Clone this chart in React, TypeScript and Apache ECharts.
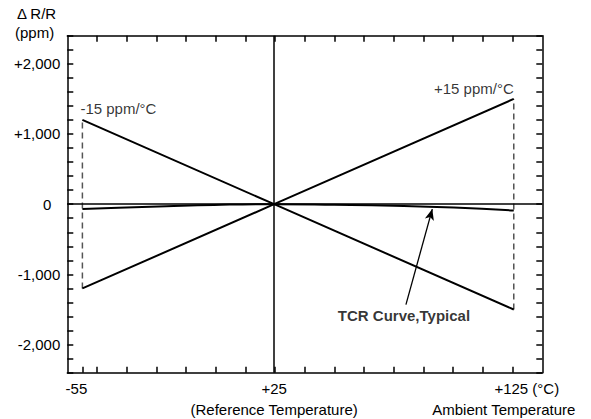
import React, { useEffect, useRef } from 'react';
import * as echarts from 'echarts';

// Temperatures (°C) and resistance changes (ppm)
const temperatures = [-55, 25, 125];
const plus15Values = [-1200, 0, 1500];
const minus15Values = [1200, 0, -1500];
const tcrTemperatures = [-55, -40, -20, 0, 25, 50, 75, 100, 125];
const tcrValues = [-70, -50, -28, -10, 0, -8, -22, -48, -90];
const xLabelValues = [-55, 25, 125];
const yLabelValues = [-2000, -1000, 0, 1000, 2000];
const arrowTail = [80, -1430];
const arrowHead = [91, -70];

const X_MIN = -61.3;
const X_MAX = 136.9;
const X_DIVISIONS = 16;
const Y_MIN = -2400;
const Y_MAX = 2400;
const Y_STEP = 200;

const FONT = '"Liberation Sans", Arial, Helvetica, sans-serif';

export default function App() {
  const ref = useRef<HTMLDivElement>(null);

  useEffect(() => {
    if (!ref.current) return;
    const chart = echarts.init(ref.current, null, { renderer: 'svg' });

    const step = (X_MAX - X_MIN) / X_DIVISIONS;
    const gridTicks: number[] = [];
    for (let k = 1; k < X_DIVISIONS; k++) gridTicks.push(X_MIN + k * step);
    const bottomTicks = [temperatures[0], ...gridTicks];

    const tickStyle = { color: '#000', width: 1.5 };
    const axisLineStyle = { color: '#000', width: 1.5 };

    const pairs = (xs: number[], ys: number[]) => xs.map((x, i) => [x, ys[i]]);

    const option: any = {
      animation: false,
      backgroundColor: '#fff',
      textStyle: { fontFamily: FONT },
      grid: {
        left: 67.3, right: 48.7, top: 35.7, bottom: 46.3,
        containLabel: false, outerBoundsMode: 'none',
      },
      graphic: [
        { type: 'text', left: 17, top: 6, style: { text: 'Δ R/R', fontSize: 15, fontFamily: FONT, fill: '#000' } },
        { type: 'text', left: 15, top: 25, style: { text: '(ppm)', fontSize: 15, fontFamily: FONT, fill: '#000' } },
      ],
      xAxis: [
        {
          type: 'value',
          position: 'bottom',
          min: X_MIN,
          max: X_MAX,
          splitLine: { show: false },
          axisLine: { show: true, onZero: false, lineStyle: axisLineStyle },
          axisTick: { show: true, inside: true, length: 6, customValues: bottomTicks, lineStyle: tickStyle },
          axisLabel: {
            show: true,
            customValues: xLabelValues,
            margin: 5,
            color: '#000',
            fontSize: 15,
            fontFamily: FONT,
            lineHeight: 21,
            formatter: (v: number) => {
              if (v === xLabelValues[0]) return '{l|-55}';
              if (v === xLabelValues[1]) return '{c|+25}\n{c|(Reference Temperature)}';
              return '{a|+125 (°C)}\n{b|Ambient Temperature}';
            },
            rich: {
              l: { fontSize: 15, fontFamily: FONT, color: '#000', lineHeight: 21, padding: [0, 12, 0, 0] },
              c: { fontSize: 15, fontFamily: FONT, color: '#000', lineHeight: 21 },
              a: { fontSize: 15, fontFamily: FONT, color: '#000', lineHeight: 21, padding: [0, 0, 0, 26] },
              b: { fontSize: 15, fontFamily: FONT, color: '#000', lineHeight: 21, padding: [0, 20, 0, 0] },
            },
          },
        },
        {
          type: 'value',
          position: 'top',
          min: X_MIN,
          max: X_MAX,
          splitLine: { show: false },
          axisLine: { show: true, onZero: false, lineStyle: axisLineStyle },
          axisTick: { show: true, inside: true, length: 6, customValues: gridTicks, lineStyle: tickStyle },
          axisLabel: { show: false },
        },
      ],
      yAxis: [
        {
          type: 'value',
          position: 'left',
          min: Y_MIN,
          max: Y_MAX,
          interval: Y_STEP,
          splitLine: { show: false },
          axisLine: { show: true, onZero: false, lineStyle: axisLineStyle },
          axisTick: { show: true, inside: true, length: 6, lineStyle: tickStyle },
          axisLabel: {
            show: true,
            customValues: yLabelValues,
            margin: 7,
            color: '#000',
            fontSize: 15,
            fontFamily: FONT,
            formatter: (v: number) => {
              if (v === 0) return '{z|0}';
              const s = Math.abs(v).toLocaleString('en-US');
              return v > 0 ? '+' + s : '-' + s;
            },
            rich: {
              z: { fontSize: 15, fontFamily: FONT, color: '#000', padding: [0, 9, 0, 0] },
            },
          },
        },
        {
          type: 'value',
          position: 'right',
          min: Y_MIN,
          max: Y_MAX,
          interval: Y_STEP,
          splitLine: { show: false },
          axisLine: { show: true, onZero: false, lineStyle: axisLineStyle },
          axisTick: { show: true, inside: true, length: 6, lineStyle: tickStyle },
          axisLabel: { show: false },
        },
      ],
      series: [
        {
          name: 'bounds -55',
          type: 'line',
          data: [[temperatures[0], plus15Values[0]], [temperatures[0], minus15Values[0]]],
          showSymbol: false,
          symbol: 'none',
          lineStyle: { color: '#555', width: 1.5, type: [6, 4] },
          silent: true,
          z: 2,
          markLine: {
            silent: true,
            symbol: ['none', 'none'],
            label: { show: false },
            lineStyle: { color: '#000', width: 1.5, type: 'solid' },
            data: [{ yAxis: 0 }, { xAxis: temperatures[1] }],
          },
        },
        {
          name: 'bounds 125',
          type: 'line',
          data: [[temperatures[2], minus15Values[2]], [temperatures[2], plus15Values[2]]],
          showSymbol: false,
          symbol: 'none',
          lineStyle: { color: '#555', width: 1.5, type: [6, 4] },
          silent: true,
          z: 2,
        },
        {
          name: '+15 ppm/°C',
          type: 'line',
          data: pairs(temperatures, plus15Values),
          showSymbol: false,
          symbol: 'none',
          lineStyle: { color: '#000', width: 2 },
          z: 3,
        },
        {
          name: '-15 ppm/°C',
          type: 'line',
          data: pairs(temperatures, minus15Values),
          showSymbol: false,
          symbol: 'none',
          lineStyle: { color: '#000', width: 2 },
          z: 3,
        },
        {
          name: 'TCR Curve, Typical',
          type: 'line',
          data: pairs(tcrTemperatures, tcrValues),
          smooth: true,
          showSymbol: false,
          symbol: 'none',
          lineStyle: { color: '#000', width: 2 },
          z: 3,
          markLine: {
            silent: true,
            symbol: ['none', 'arrow'],
            symbolSize: [7, 11],
            label: { show: false },
            lineStyle: { color: '#000', width: 1.3, type: 'solid' },
            data: [[{ coord: arrowTail }, { coord: arrowHead }]],
          },
        },
        {
          name: 'annotations',
          type: 'scatter',
          symbolSize: 1,
          itemStyle: { color: 'rgba(0,0,0,0)' },
          silent: true,
          z: 5,
          data: [
            {
              value: [temperatures[0], minus15Values[0]],
              label: {
                show: true, formatter: '-15 ppm/°C', position: 'top', align: 'left',
                distance: 3, offset: [-2, 0], fontSize: 15, fontFamily: FONT, color: '#000',
              },
            },
            {
              value: [temperatures[2], plus15Values[2]],
              label: {
                show: true, formatter: '+15 ppm/°C', position: 'top', align: 'right',
                distance: 2, offset: [0, 0], fontSize: 15, fontFamily: FONT, color: '#000',
              },
            },
            {
              value: arrowTail,
              label: {
                show: true, formatter: 'TCR Curve,Typical', position: 'bottom',
                distance: 3, offset: [-2, 0], fontSize: 15, fontWeight: 'bold', fontFamily: FONT, color: '#000',
              },
            },
          ],
        },
      ],
    };

    chart.setOption(option);
    return () => chart.dispose();
  }, []);

  return (
    <div
      ref={ref}
      style={{ position: 'fixed', left: 0, top: 0, width: 591, height: 419, background: '#fff' }}
    />
  );
}
